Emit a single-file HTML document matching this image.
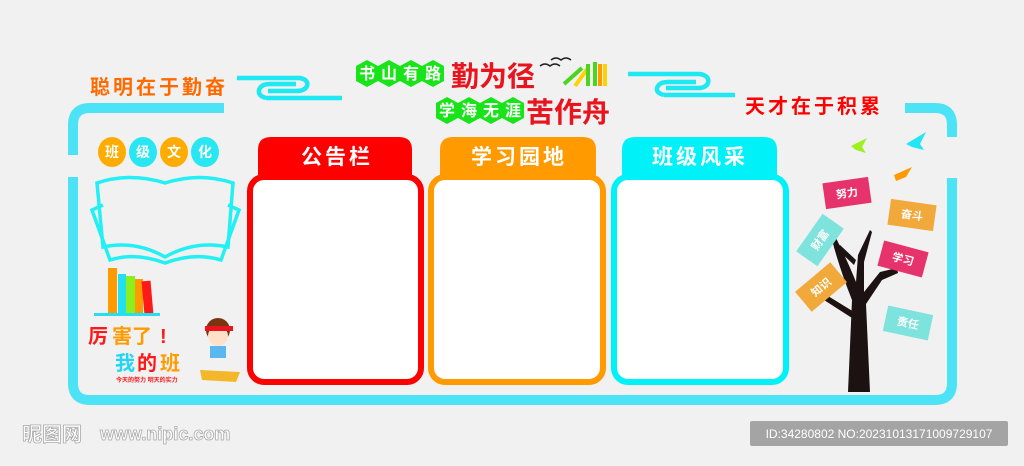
<!DOCTYPE html>
<html><head><meta charset="utf-8"><style>
html,body{margin:0;padding:0;background:#f1f1f1;}
body{width:1024px;height:461px;overflow:hidden;position:relative;font-family:"Liberation Sans","Noto Sans CJK SC",sans-serif;}
svg text{font-family:"Liberation Sans","Noto Sans CJK SC",sans-serif;font-weight:bold;}
</style></head><body>
<svg width="1024" height="461" viewBox="0 0 1024 461" xmlns="http://www.w3.org/2000/svg">
<rect width="1024" height="461" fill="#f1f1f1"/>
<g fill="none" stroke="#4be3f5" stroke-width="10">
<path d="M73 155 V125 Q73 108 90 108 H224"/>
<path d="M73 177 V383 Q73 400 90 400 H935 Q952 400 952 383 V178"/>
<path d="M905 108 H935 Q952 108 952 125 V137"/>
</g>
<g fill="none" stroke="#1ee8f2" stroke-width="4.5">
<path d="M237 78 H300 Q309 80 307 86 Q305 91 296 91 H268"/>
<path d="M266 98 Q258 96 259 90 Q261 84 270 84 H296"/>
<path d="M266 98 H342"/>
<path d="M628 74 H700 Q710 76 708 83 Q706 88 698 88 H666"/>
<path d="M664 95 Q656 93 657 88 Q659 82 668 82 H696"/>
<path d="M664 95 H735"/>
</g>
<text x="90" y="94" font-size="20" fill="#ff6a00" letter-spacing="3">聪明在于勤奋</text>
<text x="745" y="113" font-size="20" fill="#ff0000" letter-spacing="3">天才在于积累</text>
<g font-size="16" fill="#fff" text-anchor="middle">
<g fill="#19e41a">
<polygon points="367,60 378,66 378,81 367,87 356,81 356,66"/>
<polygon points="389,60 400,66 400,81 389,87 378,81 378,66"/>
<polygon points="411,60 422,66 422,81 411,87 400,81 400,66"/>
<polygon points="433,60 444,66 444,81 433,87 422,81 422,66"/>
<polygon points="447,97 458,103 458,118 447,124 436,118 436,103"/>
<polygon points="469,97 480,103 480,118 469,124 458,118 458,103"/>
<polygon points="491,97 502,103 502,118 491,124 480,118 480,103"/>
<polygon points="513,97 524,103 524,118 513,124 502,118 502,103"/>
</g>
<text x="367" y="79">书</text><text x="389" y="79">山</text><text x="411" y="79">有</text><text x="433" y="79">路</text>
<text x="447" y="116">学</text><text x="469" y="116">海</text><text x="491" y="116">无</text><text x="513" y="116">涯</text>
</g>
<text x="451" y="86" font-size="28" fill="#e8141e">勤为径</text>
<text x="526" y="122" font-size="28" fill="#e8141e">苦作舟</text>
<path d="M540 66 q5 -4 10 0 q5 -4 10 0 M551 60 q5 -4 10 0 q5 -4 10 0" stroke="#222" stroke-width="1.5" fill="none"/>
<g stroke-width="4"><line x1="564" y1="84" x2="582" y2="68" stroke="#4bd61c"/><line x1="575" y1="86" x2="588" y2="68" stroke="#ffd100"/><line x1="588" y1="86" x2="588" y2="64" stroke="#4bd61c"/><line x1="595" y1="86" x2="595" y2="62" stroke="#4bd61c"/><line x1="600" y1="86" x2="600" y2="64" stroke="#ff9a00"/><line x1="605" y1="86" x2="605" y2="64" stroke="#ffd100"/></g>
<g font-size="14" fill="#fff" text-anchor="middle">
<ellipse cx="112" cy="152" rx="14" ry="15" fill="#ffac00"/><text x="112" y="157">班</text>
<ellipse cx="143" cy="152" rx="14" ry="15" fill="#28e6f2"/><text x="143" y="157">级</text>
<ellipse cx="174" cy="152" rx="14" ry="15" fill="#ffac00"/><text x="174" y="157">文</text>
<ellipse cx="205" cy="152" rx="14" ry="15" fill="#28e6f2"/><text x="205" y="157">化</text>
</g>
<g fill="none" stroke="#22f0f4" stroke-width="3.5">
<path d="M97 183 Q130 172 165 183 Q200 172 233 183 L228 247 Q195 240 165 257 Q135 240 103 247 Z"/>
<path d="M103 205 L92 210 L110 260 Q135 252 165 263 Q195 252 221 260 L239 210 L228 205"/>
</g>
<rect x="108" y="268" width="9" height="47" fill="#ff9a00"/><rect x="118" y="274" width="8" height="41" fill="#22e0f2"/><rect x="126" y="276" width="9" height="39" fill="#8cf01e"/><rect x="135" y="279" width="8" height="36" fill="#ff9a00"/><rect x="143" y="281" width="9" height="34" fill="#ff1a1a" transform="rotate(-5 147 298)"/>
<rect x="94" y="313" width="66" height="3" fill="#22e0f2"/>
<text x="88" y="343" font-size="20" fill="#ff1a1a">厉</text><text x="112" y="343" font-size="20" fill="#ff9a00">害了</text><text x="160" y="343" font-size="20" fill="#ff1a1a">!</text>
<text x="115" y="370" font-size="20" fill="#22d6f2">我</text><text x="137" y="370" font-size="20" fill="#ff1a1a">的</text><text x="160" y="370" font-size="20" fill="#ff9a00">班</text>
<text x="116" y="382" font-size="6" fill="#ff1a1a">今天的努力  明天的实力</text>
<circle cx="218" cy="330" r="12" fill="#7a3410"/><circle cx="218" cy="336" r="10" fill="#ffe0c8"/><rect x="205" y="326" width="28" height="5" fill="#e8141e"/>
<rect x="210" y="346" width="16" height="12" fill="#5ab7f0"/><path d="M200 370 L240 372 L236 382 L202 380 Z" fill="#f5b72a"/>
<g>
<path d="M258 175 V150 Q258 137 271 137 H399 Q412 137 412 150 V175 Z" fill="#ff0000"/>
<rect x="250" y="177" width="171" height="205" rx="14" fill="#fff" stroke="#ff0000" stroke-width="6"/>
<path d="M440 175 V150 Q440 137 453 137 H583 Q596 137 596 150 V175 Z" fill="#ff9a00"/>
<rect x="431" y="177" width="172" height="205" rx="14" fill="#fff" stroke="#ff9a00" stroke-width="6"/>
<path d="M622 175 V150 Q622 137 635 137 H764 Q777 137 777 150 V175 Z" fill="#00f2f8"/>
<rect x="614" y="177" width="172" height="205" rx="14" fill="#fff" stroke="#00f2f8" stroke-width="6"/>
</g>
<g font-size="21" fill="#fff" text-anchor="middle" letter-spacing="3">
<text x="337" y="164">公告栏</text><text x="519" y="164">学习园地</text><text x="700" y="164">班级风采</text>
</g>
<path d="M848 392 L852 300 Q840 270 832 240 L836 238 Q848 262 856 282 L858 255 L870 230 L872 232 L864 262 L864 292 L880 272 L897 268 L898 273 L882 280 L866 304 L870 392 Z M852 318 L824 300 L828 296 L854 312 Z M854 265 L836 248 L840 245 L856 260 Z" fill="#1d1212"/>
<g font-size="11" fill="#fff" text-anchor="middle">
<g transform="rotate(-8 847 193)"><rect x="824" y="180" width="46" height="26" fill="#e6336b"/><text x="847" y="197">努力</text></g>
<g transform="rotate(8 912 215)"><rect x="889" y="202" width="46" height="26" fill="#f2a93b"/><text x="912" y="219">奋斗</text></g>
<g transform="rotate(-55 820 240)"><rect x="797" y="227" width="46" height="26" fill="#7fe3dd"/><text x="820" y="244">财富</text></g>
<g transform="rotate(15 903 259)"><rect x="880" y="246" width="46" height="26" fill="#e6336b"/><text x="903" y="263">学习</text></g>
<g transform="rotate(-40 821 287)"><rect x="798" y="274" width="46" height="26" fill="#f2a93b"/><text x="821" y="291">知识</text></g>
<g transform="rotate(12 908 323)"><rect x="885" y="310" width="46" height="26" fill="#7fe3dd"/><text x="908" y="327">责任</text></g>
</g>
<path d="M851 146 l16 -8 l-5 9 l4 6 l-10 -3 z" fill="#9ef01e"/>
<path d="M906 144 l20 -12 l-6 12 l4 6 l-12 -3 z" fill="#22e6f2"/>
<path d="M894 175 l18 -8 l-6 10 l-10 4 z" fill="#ff9a00"/>
<text x="22" y="441" font-size="20" fill="#fff" stroke="#aaa" stroke-width="0.8">昵图网</text>
<text x="100" y="440" font-size="18" fill="#fff" stroke="#aaa" stroke-width="0.8">www.nipic.com</text>
<rect x="750" y="421" width="258" height="25" rx="2" fill="#a4a4a4"/>
<text x="879" y="438" font-size="12" fill="#fff" text-anchor="middle" style="font-weight:normal">ID:34280802 NO:20231013171009729107</text>
</svg>
</body></html>
